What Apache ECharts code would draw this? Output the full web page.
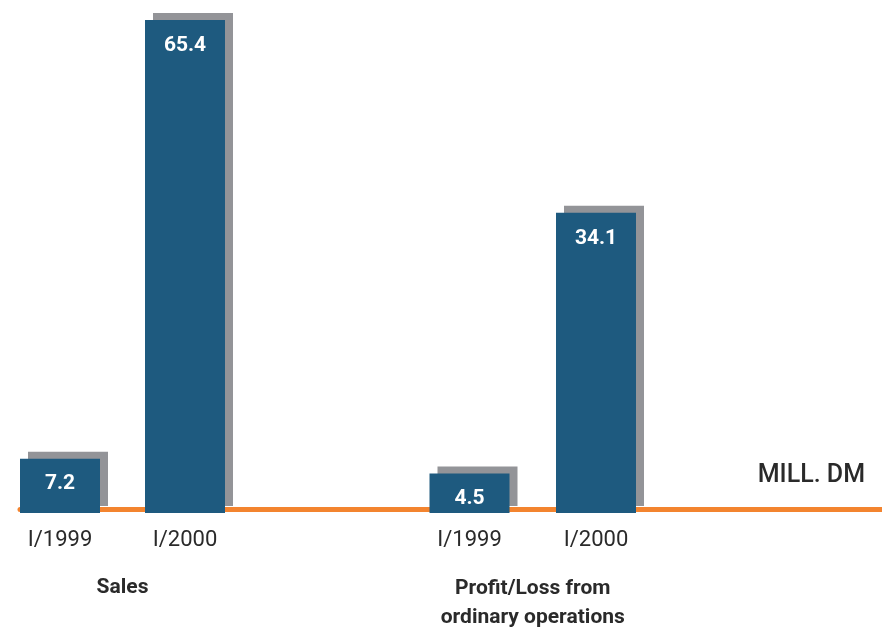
<!DOCTYPE html>
<html><head><meta charset="utf-8">
<script src="https://cdn.jsdelivr.net/npm/echarts@6/dist/echarts.min.js"></script>
<style>html,body{margin:0;padding:0;background:#fff}#c{width:882px;height:629px}</style>
</head><body><div id="c"></div>
<script>
const periods = ['I/1999', 'I/2000'];
const salesValues = [7.2, 65.4];
const profitValues = [4.5, 34.1];
const groupNames = ['Sales', 'Profit/Loss from\nordinary operations'];
const unitLabel = 'MILL. DM';

const BLUE = '#1e5a7f', GRAY = '#939498', ORANGE = '#f3842f', TEXT = '#2a2a2a';
const FONT = 'Roboto';

const chart = echarts.init(document.getElementById('c'));

function barSeries(idx, data) {
  return {
    type: 'bar', xAxisIndex: idx, yAxisIndex: idx, data: data, barWidth: 80,
    itemStyle: { color: BLUE, shadowColor: GRAY, shadowBlur: 0, shadowOffsetX: 8, shadowOffsetY: -7 },
    label: { show: true, position: 'insideTop', distance: 15, color: '#fff', fontFamily: FONT,
      fontWeight: 'bold', fontSize: 21, formatter: p => p.value.toFixed(1) },
    emphasis: { disabled: true }, animation: false
  };
}

function catAxis(idx, name, gap) {
  return {
    type: 'category', gridIndex: idx, data: periods, boundaryGap: false,
    axisLine: { show: false }, axisTick: { show: false },
    axisLabel: { color: TEXT, fontFamily: FONT, fontSize: 22, margin: 16 },
    name: name, nameLocation: 'middle', nameGap: gap,
    nameTextStyle: { color: TEXT, fontFamily: FONT, fontWeight: 'bold', fontSize: 21, lineHeight: 29, verticalAlign: 'top' }
  };
}

chart.setOption({
  animation: false,
  title: { text: unitLabel, right: 12, top: 458, textStyle: { color: TEXT, fontFamily: FONT, fontWeight: 500, fontSize: 25 } },
  grid: [
    { left: 60, width: 125, top: 20, bottom: 116, outerBoundsMode: 'none', containLabel: false },
    { left: 469.5, width: 126.5, top: 20, bottom: 116, outerBoundsMode: 'none', containLabel: false },
    { left: 20, right: 0, top: 300, bottom: 120, outerBoundsMode: 'none', containLabel: false }
  ],
  xAxis: [
    catAxis(0, groupNames[0], 60),
    catAxis(1, groupNames[1], 61),
    { type: 'value', gridIndex: 2, min: 0, max: 1, axisLine: { show: true, lineStyle: { color: ORANGE, width: 5 } },
      axisTick: { show: false }, axisLabel: { show: false }, splitLine: { show: false } }
  ],
  yAxis: [
    { type: 'value', gridIndex: 0, min: 0, max: 65.4, show: false },
    { type: 'value', gridIndex: 1, min: 0, max: 56, show: false },
    { type: 'value', gridIndex: 2, min: 0, max: 1, show: false }
  ],
  series: [barSeries(0, salesValues), barSeries(1, profitValues)]
});
</script></body></html>
